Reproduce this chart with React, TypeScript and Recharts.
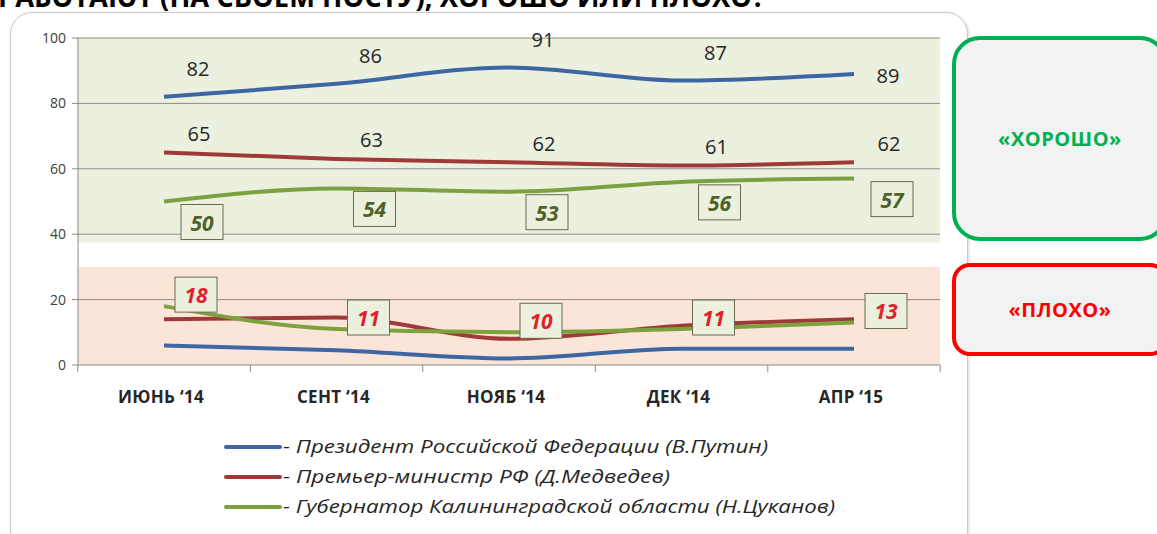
import { LabelList, Line, LineChart, ReferenceArea, ReferenceLine, XAxis, YAxis } from "recharts";

const months = ["ИЮНЬ ‘14", "СЕНТ ‘14", "НОЯБ ‘14", "ДЕК ‘14", "АПР ‘15"];

// "хорошо"
const putinGood = [82, 86, 91, 87, 89];
const medvedevGood = [65, 63, 62, 61, 62];
const tsukanovGood = [50, 54, 53, 56, 57];
// "плохо"
const putinBad = [6, 4.5, 2, 5, 5];
const medvedevBad = [14, 14.5, 8, 12, 14];
const tsukanovBad = [18, 11, 10, 11, 13];

const yTicks = [0, 20, 40, 60, 80, 100];

const legendItems = [
  { label: "- Президент Российской Федерации (В.Путин)", color: "#3d66a3", width: 485 },
  { label: "- Премьер-министр РФ (Д.Медведев)", color: "#a03a3a", width: 387 },
  { label: "- Губернатор Калининградской области (Н.Цуканов)", color: "#7ca23f", width: 552 },
];

const chartData = months.map((month, i) => ({
  month,
  putinGood: putinGood[i],
  medvedevGood: medvedevGood[i],
  tsukanovGood: tsukanovGood[i],
  putinBad: putinBad[i],
  medvedevBad: medvedevBad[i],
  tsukanovBad: tsukanovBad[i],
}));

const PLOT_LEFT = 78;
const PLOT_WIDTH = 862;
const HALF_BAND = PLOT_WIDTH / months.length / 2;

// band spans the whole plot width, not only first..last category
const fullWidthBand = (fill: string) => (props: any) => (
  <rect x={PLOT_LEFT} y={props.y} width={PLOT_WIDTH} height={props.height} fill={fill} />
);

const MonthTick = (props: any) => {
  const { x, y, payload, index } = props;
  return (
    <g>
      <line x1={x - HALF_BAND} x2={x - HALF_BAND} y1={y} y2={y + 7} stroke="#8a8a8a" />
      {index === months.length - 1 && (
        <line x1={x + HALF_BAND} x2={x + HALF_BAND} y1={y} y2={y + 7} stroke="#8a8a8a" />
      )}
      <text x={x - 3} y={y + 38} textAnchor="middle" fill="#262626" fontSize={17} fontWeight="bold" fontFamily="Open Sans" letterSpacing={0.3}>
        {payload.value}
      </text>
    </g>
  );
};

const plainLabel = (dx: number, dy: number) => (props: any) => {
  const { x, y, value, index } = props;
  const last = index === months.length - 1;
  return (
    <text
      x={x + dx}
      y={last && dy < -20 ? y + 2 : y + dy}
      textAnchor="middle"
      dominantBaseline="central"
      fill="#262626"
      fontSize={20}
      fontFamily="Open Sans"
    >
      {value}
    </text>
  );
};

const boxLabel = (dx: number, dy: number, color: string) => (props: any) => {
  const { x, y, value } = props;
  const cx = x + dx;
  const cy = y + dy;
  return (
    <g>
      <rect x={cx - 21} y={cy - 17} width={42} height={35} fill="#ebf1de" stroke="#6b6b50" strokeWidth={1} />
      <text x={cx} y={cy + 1} textAnchor="middle" dominantBaseline="central" fill={color} fontSize={21} fontWeight="bold" fontStyle="italic" fontFamily="Open Sans">
        {value}
      </text>
    </g>
  );
};

const sideBox = {
  position: "absolute" as const,
  left: 952,
  width: 216,
  background: "#f2f2f2",
  display: "flex",
  alignItems: "center",
  justifyContent: "center",
  boxSizing: "border-box" as const,
  fontFamily: "Open Sans",
  fontWeight: "bold" as const,
  fontSize: 20,
  letterSpacing: 0.5,
};

export default function App() {
  return (
    <div style={{ position: "fixed", left: 0, top: 0, width: 1157, height: 534, overflow: "hidden", background: "#fff" }}>
      <svg width={800} height={12} style={{ position: "absolute", left: 0, top: 0 }}>
        <text x={-2} y={7} fontSize={28} fontWeight="bold" fontFamily="Open Sans" fill="#000" textLength={767} lengthAdjust="spacingAndGlyphs">
          РАБОТАЮТ (НА СВОЕМ ПОСТУ), ХОРОШО ИЛИ ПЛОХО?
        </text>
      </svg>
      <div
        style={{
          position: "absolute",
          left: 10,
          top: 12,
          width: 956,
          height: 540,
          border: "1.5px solid #c9c9c9",
          borderRadius: 22,
          background: "#fff",
          boxShadow: "1px 1px 3px rgba(0,0,0,0.15)",
        }}
      />
      <div style={{ position: "absolute", left: 0, top: 0 }}>
        <LineChart width={960} height={430} data={chartData} margin={{ top: 38, right: 20, left: 0, bottom: 25 }}>
          <ReferenceArea y1={37.5} y2={100} shape={fullWidthBand("#ebf0df")} ifOverflow="visible" />
          <ReferenceArea y1={0} y2={30} shape={fullWidthBand("#fbe5d8")} ifOverflow="visible" />
          {yTicks.slice(1).map((t) => (
            <ReferenceLine key={t} y={t} stroke="#8c8c8c" strokeWidth={1} />
          ))}
          <XAxis
            dataKey="month"
            padding={{ left: 86, right: 86 }}
            tickLine={false}
            tickSize={0}
            tickMargin={0}
            height={40}
            axisLine={{ stroke: "#8a8a8a" }}
            tick={<MonthTick />}
            interval={0}
          />
          <YAxis
            width={78}
            domain={[0, 100]}
            ticks={yTicks}
            tickSize={6}
            tickMargin={6}
            axisLine={{ stroke: "#8a8a8a" }}
            tickLine={{ stroke: "#8a8a8a" }}
            tick={{ fill: "#404040", fontSize: 14, fontFamily: "Open Sans" }}
          />
          <Line type="monotone" dataKey="putinGood" stroke="#3d66a3" strokeWidth={4} dot={false} isAnimationActive={false}>
            <LabelList dataKey="putinGood" content={plainLabel(34, -28)} />
          </Line>
          <Line type="monotone" dataKey="medvedevGood" stroke="#a03a3a" strokeWidth={4} dot={false} isAnimationActive={false}>
            <LabelList dataKey="medvedevGood" content={plainLabel(35, -19)} />
          </Line>
          <Line type="monotone" dataKey="tsukanovGood" stroke="#7ca23f" strokeWidth={4} dot={false} isAnimationActive={false}>
            <LabelList dataKey="tsukanovGood" content={boxLabel(38, 20, "#4f6228")} />
          </Line>
          <Line type="monotone" dataKey="putinBad" stroke="#3d66a3" strokeWidth={4} dot={false} isAnimationActive={false} />
          <Line type="monotone" dataKey="medvedevBad" stroke="#a03a3a" strokeWidth={4} dot={false} isAnimationActive={false} />
          <Line type="monotone" dataKey="tsukanovBad" stroke="#7ca23f" strokeWidth={4} dot={false} isAnimationActive={false}>
            <LabelList dataKey="tsukanovBad" content={boxLabel(32, -12, "#e0202a")} />
          </Line>
        </LineChart>
      </div>
      <svg width={700} height={90} style={{ position: "absolute", left: 200, top: 430 }}>
        {legendItems.map((item, i) => (
          <g key={item.label}>
            <line x1={26} x2={80} y1={17 + i * 30} y2={17 + i * 30} stroke={item.color} strokeWidth={4} strokeLinecap="round" />
            <text
              x={83}
              y={23 + i * 30}
              fontSize={18}
              fontStyle="italic"
              fontFamily="Open Sans"
              fill="#262626"
              textLength={item.width}
              lengthAdjust="spacingAndGlyphs"
            >
              {item.label}
            </text>
          </g>
        ))}
      </svg>
      <div style={{ ...sideBox, top: 36, height: 205, border: "4px solid #00b050", borderRadius: 28, color: "#00b050" }}>
        «ХОРОШО»
      </div>
      <div style={{ ...sideBox, top: 263, height: 93, border: "4px solid #ff0000", borderRadius: 18, color: "#ff0000" }}>
        «ПЛОХО»
      </div>
    </div>
  );
}
